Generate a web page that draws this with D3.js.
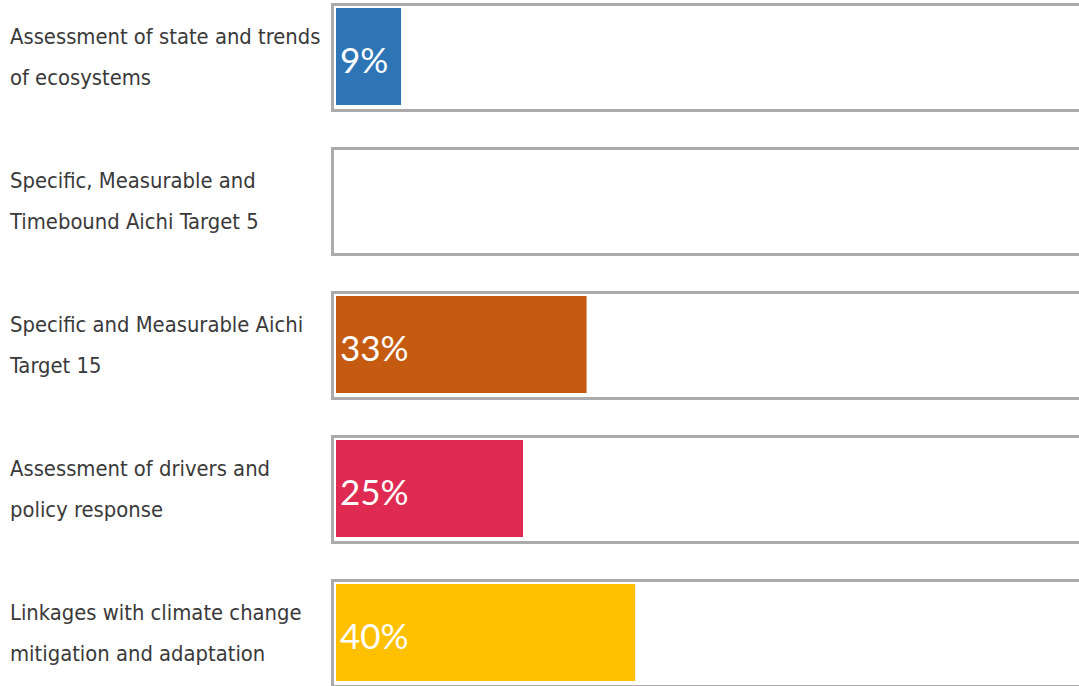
<!DOCTYPE html>
<html><head><meta charset="utf-8">
<script src="https://cdn.jsdelivr.net/npm/d3@7"></script>
<style>html,body{margin:0;padding:0;background:#fff;overflow:hidden}</style>
</head><body>
<svg id="c" width="1079" height="686"></svg>
<script>
const categories = [
  "Assessment of state and trends|of ecosystems",
  "Specific, Measurable and|Timebound Aichi Target 5",
  "Specific and Measurable Aichi|Target 15",
  "Assessment of drivers and|policy response",
  "Linkages with climate change|mitigation and adaptation"
];
const values = [8.7, 0, 33.5, 25, 40];
const valueLabels = ["9%", "", "33%", "25%", "40%"];
const colors = ["#2E75B6", "#FFFFFF", "#C55A11", "#DF2A52", "#FFC000"];

const svg = d3.select("#c");
const y = d3.scaleBand().domain(categories).range([3, 688]).paddingInner(0.243).paddingOuter(0);
const x = d3.scaleLinear().domain([0, 100]).range([336, 1084]);

const rows = svg.selectAll("g.row").data(categories).join("g").attr("class", "row")
  .attr("transform", d => `translate(0,${y(d)})`);

rows.append("rect")
  .attr("x", 332.5).attr("y", 1.5)
  .attr("width", 800).attr("height", y.bandwidth() - 3)
  .attr("fill", "#fff").attr("stroke", "#ABABAB").attr("stroke-width", 3);

rows.append("rect")
  .attr("x", x(0)).attr("y", 5)
  .attr("width", (d, i) => x(values[i]) - x(0))
  .attr("height", y.bandwidth() - 12)
  .attr("fill", (d, i) => colors[i]);

rows.append("text")
  .attr("x", x(0) + 4).attr("y", 70)
  .attr("fill", "#fff")
  .attr("font-family", "Lato, 'Open Sans', sans-serif")
  .attr("font-size", 35)
  .text((d, i) => valueLabels[i]);

const lab = rows.append("text")
  .attr("font-family", "'DejaVu Sans Condensed', 'Liberation Sans Narrow', sans-serif")
  .attr("font-size", 21.8)
  .attr("fill", "#3A3A3A");
lab.selectAll("tspan").data(d => d.split("|")).join("tspan")
  .attr("x", 10).attr("y", (d, j) => 41 + j * 41)
  .text(d => d);
</script>
</body></html>
